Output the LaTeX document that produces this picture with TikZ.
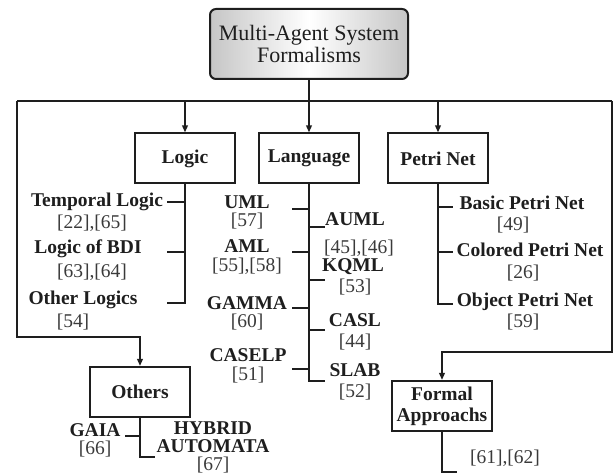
\documentclass[tikz,border=0pt]{standalone}
\usepackage{fontspec}
\setmainfont{Liberation Serif}
\usetikzlibrary{arrows.meta}
\definecolor{ink}{HTML}{1E1E1E}
\definecolor{refink}{HTML}{3A3A3A}
\begin{document}
\begin{tikzpicture}[x=1pt,y=-1pt,
  wire/.style={draw=ink,line width=2.3pt},
  arr/.style={wire,-{Triangle[length=7pt,width=5.5pt]}},
  rootbox/.style={draw=ink,line width=2pt,rounded corners=6pt,
    left color=gray!45,right color=gray!45,middle color=white,
    minimum width=198pt,minimum height=70pt,align=center,
    font=\fontsize{22}{22}\selectfont,text=ink,inner sep=0pt},
  catbox/.style={draw=ink,line width=2pt,fill=white,
    minimum width=100pt,minimum height=50pt,align=center,
    font=\fontsize{19.5}{21}\selectfont\bfseries,text=ink,inner sep=0pt},
  leaflabel/.style={font=\fontsize{19.5}{18}\selectfont\bfseries,text=ink,inner sep=0pt,align=center},
  refnote/.style={font=\fontsize{19.5}{19}\selectfont,text=refink,inner sep=0pt}]
\useasboundingbox (0,0) rectangle (614,473);

% root and the five categories
\node[rootbox] (mas) at (309,44) {Multi-Agent System\\Formalisms};
\node[catbox] (logic) at (185,158.5) {Logic};
\node[catbox] (lang) at (309,158.5) {Language};
\node[catbox] (petri) at (438,158.5) {Petri Net};
\node[catbox] (others) at (140,392) {Others};
\node[catbox] (formal) at (442,406) {Formal\\Approachs};

% distribution bus
\coordinate (busL) at (17,101);
\coordinate (busR) at (612,101);
\coordinate (othK) at (17,337);
\coordinate (forK) at (612,352);
\draw[wire] (mas.south) -- (mas.south |- busL);
\draw[wire] (busL) -- (busR);
\draw[arr] (logic.north |- busL) -- (logic.north);
\draw[arr] (lang.north |- busL) -- (lang.north);
\draw[arr] (petri.north |- busL) -- (petri.north);
\draw[arr] (busL) -- (othK) -| (others.north);
\draw[arr] (busR) -- (forK) -| (formal.north);

% Logic leaves
\node[leaflabel] (tl) at (97,202) {Temporal Logic};
\node[refnote] (tlr) at (92,223) {[22],[65]};
\node[leaflabel] (bdi) at (88,249) {Logic of BDI};
\node[refnote] (bdir) at (92,272) {[63],[64]};
\node[leaflabel] (ol) at (83,300) {Other Logics};
\node[refnote] (olr) at (73,322) {[54]};
\coordinate (tlE) at (167,202);
\coordinate (bdiE) at (167,252);
\coordinate (olE) at (167,303);
\draw[wire] (logic.south) -- (logic.south |- olE) -- (olE);
\draw[wire] (logic.south |- tlE) -- (tlE);
\draw[wire] (logic.south |- bdiE) -- (bdiE);

% Language leaves, left side
\node[leaflabel] (uml) at (247,202) {UML};
\node[refnote] (umlr) at (247,221) {[57]};
\node[leaflabel] (aml) at (247,246) {AML};
\node[refnote] (amlr) at (247,266) {[55],[58]};
\node[leaflabel] (gam) at (247,303) {GAMMA};
\node[refnote] (gamr) at (247,322) {[60]};
\node[leaflabel] (cas) at (248,355) {CASELP};
\node[refnote] (casr) at (248,375) {[51]};
\coordinate (umlE) at (292,209);
\coordinate (amlE) at (292,252);
\coordinate (gamE) at (292,308);
\coordinate (casE) at (292,369);
% Language leaves, right side
\node[leaflabel] (auml) at (355,219) {AUML};
\node[refnote] (aumlr) at (359,248) {[45],[46]};
\node[leaflabel] (kqml) at (353,267) {KQML};
\node[refnote] (kqmlr) at (355,287) {[53]};
\node[leaflabel] (casl) at (355,320) {CASL};
\node[refnote] (caslr) at (355,342) {[44]};
\node[leaflabel] (slab) at (355,370) {SLAB};
\node[refnote] (slabr) at (355,392) {[52]};
\coordinate (aumlE) at (325,227);
\coordinate (kqmlE) at (325,280);
\coordinate (caslE) at (325,330);
\coordinate (slabE) at (325,381);
\draw[wire] (lang.south) -- (lang.south |- slabE) -- (slabE);
\foreach \e in {umlE,amlE,gamE,casE,aumlE,kqmlE,caslE}
  \draw[wire] (lang.south |- \e) -- (\e);

% Petri net leaves
\node[leaflabel] (bpn) at (522,203) {Basic Petri Net};
\node[refnote] (bpnr) at (513,225) {[49]};
\node[leaflabel] (cpn) at (530,250) {Colored Petri Net};
\node[refnote] (cpnr) at (523,273) {[26]};
\node[leaflabel] (opn) at (525,302) {Object Petri Net};
\node[refnote] (opnr) at (523,322) {[59]};
\coordinate (bpnE) at (453,207);
\coordinate (cpnE) at (453,252);
\coordinate (opnE) at (453,304);
\draw[wire] (petri.south) -- (petri.south |- opnE) -- (opnE);
\draw[wire] (petri.south |- bpnE) -- (bpnE);
\draw[wire] (petri.south |- cpnE) -- (cpnE);

% Others leaves
\node[leaflabel] (gaia) at (95,430) {GAIA};
\node[refnote] (gaiar) at (95,449) {[66]};
\node[leaflabel] (hyb) at (213,437) {HYBRID\\AUTOMATA};
\node[refnote] (hybr) at (213,465) {[67]};
\coordinate (gaiaE) at (125,436);
\coordinate (hybE) at (155,457);
\draw[wire] (others.south) -- (others.south |- hybE) -- (hybE);
\draw[wire] (others.south |- gaiaE) -- (gaiaE);

% Formal approaches leaf
\node[refnote] (far) at (505,458) {[61],[62]};
\coordinate (faE) at (457,472);
\draw[wire] (formal.south) -- (formal.south |- faE) -- (faE);
\end{tikzpicture}
\end{document}
